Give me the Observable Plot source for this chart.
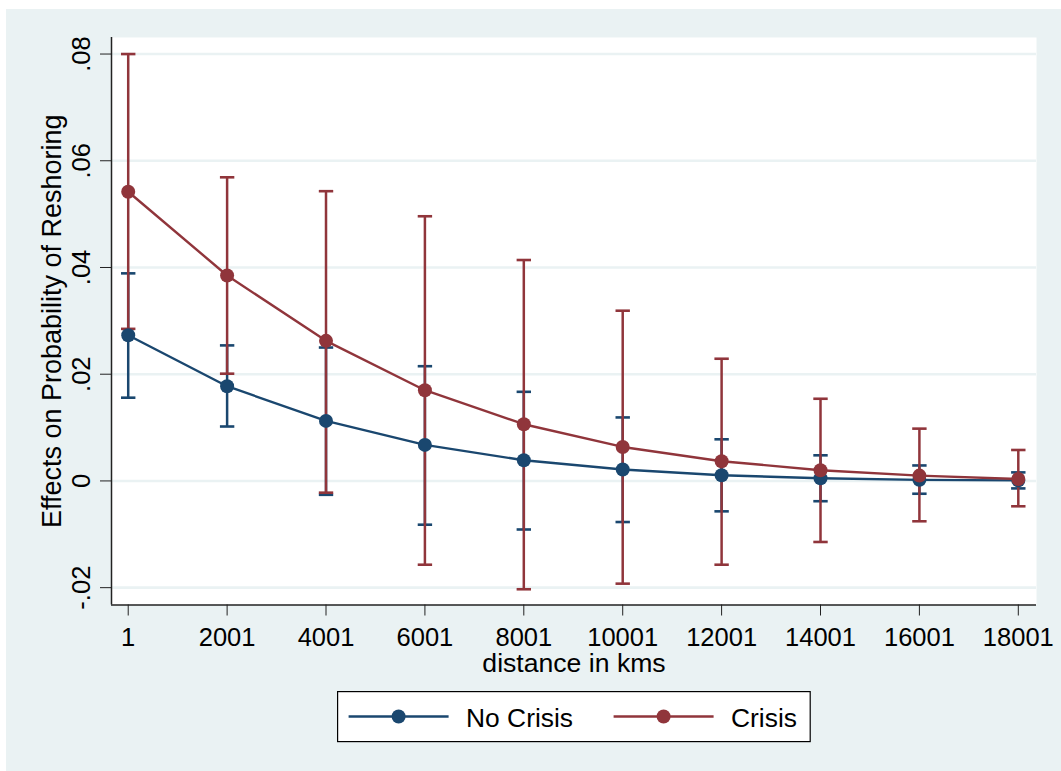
<!DOCTYPE html>
<html><head><meta charset="utf-8">
<script src="https://cdn.jsdelivr.net/npm/d3@7"></script>
<script src="https://cdn.jsdelivr.net/npm/@observablehq/plot@0.6"></script>
<style>
html,body{margin:0;padding:0;background:#fff;}
#wrap{position:absolute;left:6px;top:9px;width:1055px;height:762px;background:#EAF2F3;font-family:"Liberation Sans",Arial,sans-serif;}
#chart{position:absolute;left:0;top:0;}
#legend{position:absolute;left:330.7px;top:682.2px;}
</style></head><body>
<div id="wrap"><div id="chart"></div><div id="legend"></div></div>
<script>
// ---- data ----
const distances = [1, 2001, 4001, 6001, 8001, 10001, 12001, 14001, 16001, 18001];
const xTickLabels = ["1", "2001", "4001", "6001", "8001", "10001", "12001", "14001", "16001", "18001"];
const yTicks = [-0.02, 0, 0.02, 0.04, 0.06, 0.08];
const yTickLabels = ["-.02", "0", ".02", ".04", ".06", ".08"];

const noCrisis   = [0.0273, 0.01775, 0.01125, 0.00675, 0.00388, 0.00213, 0.00106, 0.0005, 0.0002, 0.0001];
const noCrisisLo = [0.0156, 0.0102, -0.0026, -0.0082, -0.0091, -0.0077, -0.0057, -0.0038, -0.0024, -0.0014];
const noCrisisHi = [0.0389, 0.0254, 0.0250, 0.0215, 0.0167, 0.0119, 0.0078, 0.0048, 0.0029, 0.0016];

const crisis   = [0.0542, 0.0385, 0.02625, 0.0170, 0.01063, 0.00637, 0.0037, 0.0020, 0.0010, 0.00037];
const crisisLo = [0.0285, 0.0201, -0.0022, -0.0157, -0.0203, -0.01925, -0.0157, -0.01144, -0.00756, -0.00475];
const crisisHi = [0.0800, 0.0569, 0.0543, 0.0496, 0.0414, 0.0319, 0.0229, 0.0154, 0.0098, 0.0058];

const seriesNames = ["No Crisis", "Crisis"];
const xLabel = "distance in kms";
const yLabel = "Effects on Probability of Reshoring";

// ---- build tables ----
const BLUE = "#1A476F", RED = "#90353B", BG = "#EAF2F3";
const colors = [BLUE, RED];
const tables = [
  distances.map((d, i) => ({dist: d, est: noCrisis[i], lo: noCrisisLo[i], hi: noCrisisHi[i]})),
  distances.map((d, i) => ({dist: d, est: crisis[i], lo: crisisLo[i], hi: crisisHi[i]}))
];

const xDomain = [-337, 18369];
const yDomain = [-0.02325, 0.0831];

const hline = {
  draw(context, size) {
    const r = Math.sqrt(size / Math.PI);
    context.moveTo(-r, 0);
    context.lineTo(r, 0);
  }
};

const ciMarks = (t, c) => [
  Plot.ruleX(t, {x: "dist", y1: "lo", y2: "hi", stroke: c, strokeWidth: 2.5}),
  Plot.dot(t, {x: "dist", y: "lo", symbol: hline, r: 7.2, fill: "none", stroke: c, strokeWidth: 2.6}),
  Plot.dot(t, {x: "dist", y: "hi", symbol: hline, r: 7.2, fill: "none", stroke: c, strokeWidth: 2.6})
];
const estMarks = (t, c) => [
  Plot.line(t, {x: "dist", y: "est", stroke: c, strokeWidth: 2.4}),
  Plot.dot(t, {x: "dist", y: "est", r: 7, fill: c, stroke: "none"})
];

const chart = Plot.plot({
  width: 1055, height: 672,
  marginLeft: 105, marginRight: 25, marginTop: 28, marginBottom: 76.5,
  style: {background: "transparent", fontFamily: "'Liberation Sans', Arial, sans-serif", color: "#000", overflow: "visible"},
  x: {domain: xDomain, axis: null, label: null},
  y: {domain: yDomain, axis: null, label: null},
  marks: [
    Plot.frame({fill: "white", stroke: "none"}),
    Plot.gridY(yTicks, {stroke: BG, strokeOpacity: 1, strokeWidth: 2.6}),
    Plot.axisX(distances, {tickSize: 11, tickPadding: 12, fontSize: 25.5, label: null,
      tickFormat: d => xTickLabels[distances.indexOf(d)], stroke: "#222"}),
    Plot.axisY(yTicks, {tickSize: 11, label: null, tickFormat: () => "", stroke: "#222"}),
    Plot.text(yTicks, {y: d => d, text: (d, i) => yTickLabels[i], frameAnchor: "left", rotate: -90,
      textAnchor: "middle", lineAnchor: "bottom", dx: -22, fontSize: 25.5, fill: "#000"}),
    Plot.text([yLabel], {text: d => d, frameAnchor: "left", rotate: -90, textAnchor: "middle",
      lineAnchor: "bottom", dx: -51, fontSize: 27, fill: "#000"}),
    Plot.text([xLabel], {text: d => d, frameAnchor: "bottom", textAnchor: "middle",
      lineAnchor: "bottom", dy: 67, fontSize: 26.6, fill: "#000"}),
    Plot.ruleX([xDomain[0]], {stroke: "#222", strokeWidth: 1.5}),
    Plot.ruleY([yDomain[0]], {stroke: "#222", strokeWidth: 1.5}),
    ...ciMarks(tables[0], colors[0]),
    ...ciMarks(tables[1], colors[1]),
    ...estMarks(tables[0], colors[0]),
    ...estMarks(tables[1], colors[1])
  ]
});
document.getElementById("chart").appendChild(chart);

// ---- legend (HTML-level svg swatches) ----
const leg = d3.select("#legend").append("svg").attr("width", 475).attr("height", 52)
  .style("font-family", "'Liberation Sans', Arial, sans-serif");
leg.append("rect").attr("x", 0.6).attr("y", 0.6).attr("width", 472.6).attr("height", 50)
  .attr("fill", "white").attr("stroke", "#000").attr("stroke-width", 1.2);
seriesNames.forEach((name, i) => {
  const off = i * 265;
  leg.append("line").attr("x1", 11.6 + off).attr("x2", 111.6 + off).attr("y1", 25.5).attr("y2", 25.5)
    .attr("stroke", colors[i]).attr("stroke-width", 2.4);
  leg.append("circle").attr("cx", 61.6 + off).attr("cy", 25.5).attr("r", 7).attr("fill", colors[i]);
  leg.append("text").attr("x", 129 + off).attr("y", 35.5).attr("font-size", 26.4).attr("fill", "#000").text(name);
});
</script>
</body></html>
